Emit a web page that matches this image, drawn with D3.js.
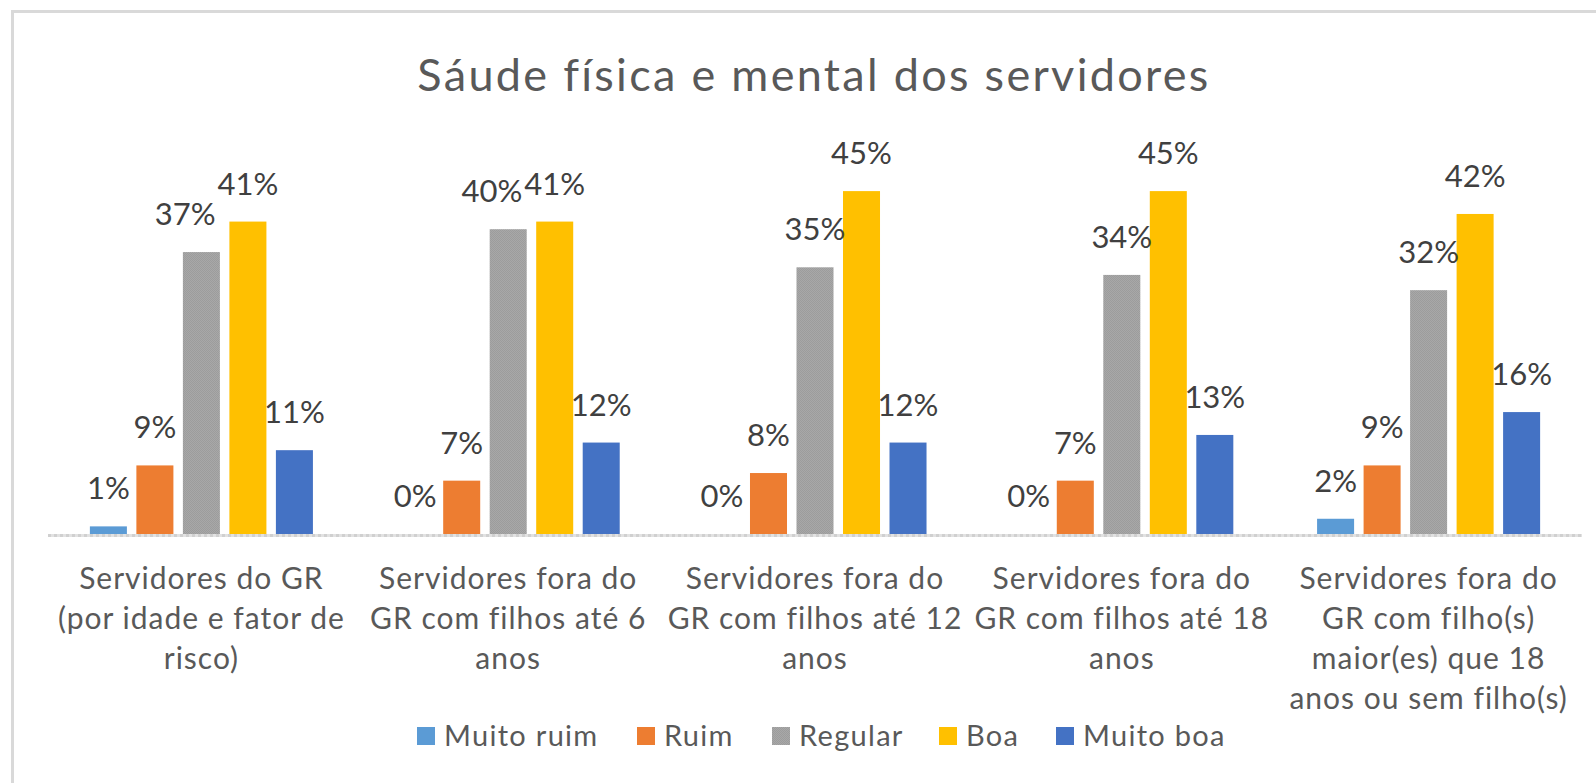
<!DOCTYPE html>
<html>
<head>
<meta charset="utf-8">
<script src="https://cdn.jsdelivr.net/npm/d3@7"></script>
<style>
  html, body { margin: 0; padding: 0; background: #ffffff; }
  svg { display: block; }
  text { font-family: Lato, "Open Sans", "Liberation Sans", sans-serif; }
</style>
</head>
<body>
<svg id="chart" width="1596" height="783"></svg>
<script>
// Chart data (percentages per health rating, per group of servants)
const title = "Sáude física e mental dos servidores";
const categories = [
  "Servidores do GR\n(por idade e fator de\nrisco)",
  "Servidores fora do\nGR com filhos até 6\nanos",
  "Servidores fora do\nGR com filhos até 12\nanos",
  "Servidores fora do\nGR com filhos até 18\nanos",
  "Servidores fora do\nGR com filho(s)\nmaior(es) que 18\nanos ou sem filho(s)"
];
const seriesNames = ["Muito ruim", "Ruim", "Regular", "Boa", "Muito boa"];
const muitoRuim = [1, 0, 0, 0, 2];
const ruim      = [9, 7, 8, 7, 9];
const regular   = [37, 40, 35, 34, 32];
const boa       = [41, 41, 45, 45, 42];
const muitoBoa  = [11, 12, 12, 13, 16];
const seriesColors = ["#5b9bd5", "#ed7d31", "url(#regularFill)", "#ffc000", "#4472c4"];

const seriesValues = [muitoRuim, ruim, regular, boa, muitoBoa];

const svg = d3.select("#chart");

// Dithered grey fill used by the "Regular" series
const defs = svg.append("defs");
const pat = defs.append("pattern")
  .attr("id", "regularFill")
  .attr("patternUnits", "userSpaceOnUse")
  .attr("width", 2).attr("height", 2);
pat.append("rect").attr("width", 2).attr("height", 2).attr("fill", "#a8a8a8");
pat.append("rect").attr("x", 0).attr("y", 0).attr("width", 1).attr("height", 1).attr("fill", "#9c9c9c");
pat.append("rect").attr("x", 1).attr("y", 1).attr("width", 1).attr("height", 1).attr("fill", "#9c9c9c");

// Chart frame (top and left edges)
svg.append("path")
  .attr("d", "M12.5,783 V11.5 H1596")
  .attr("fill", "none")
  .attr("stroke", "#d9d9d9")
  .attr("stroke-width", 3);

// Title
svg.append("text")
  .attr("x", 814)
  .attr("y", 91)
  .attr("text-anchor", "middle")
  .attr("font-size", 45)
  .attr("letter-spacing", 2.3)
  .attr("fill", "#595959")
  .text(title);

// Scales
const plotLeft = 48, plotRight = 1582, baseY = 534, topY = 153;
const x0 = d3.scaleBand().domain(d3.range(categories.length)).range([plotLeft, plotRight]).padding(0);
const groupW = x0.bandwidth() * 0.727;
const x1 = d3.scaleBand().domain(seriesNames).range([-groupW / 2, groupW / 2])
  .paddingInner(0.204).paddingOuter(0);
const y = d3.scaleLinear().domain([0, 50]).range([baseY, topY]);

// Bars
const rows = [];
categories.forEach((c, ci) => {
  seriesNames.forEach((s, si) => {
    rows.push({ ci, s, si, v: seriesValues[si][ci] });
  });
});

const g = svg.append("g");
g.selectAll("rect.bar")
  .data(rows)
  .join("rect")
  .attr("class", "bar")
  .attr("x", d => x0(d.ci) + x0.bandwidth() / 2 + x1(d.s))
  .attr("width", x1.bandwidth())
  .attr("y", d => y(d.v))
  .attr("height", d => baseY - y(d.v))
  .attr("fill", d => seriesColors[d.si]);

// Category axis line
svg.append("line")
  .attr("x1", plotLeft).attr("x2", plotRight)
  .attr("y1", baseY + 1.5).attr("y2", baseY + 1.5)
  .attr("stroke", "#e2e2e2").attr("stroke-width", 3);
svg.append("line")
  .attr("x1", plotLeft).attr("x2", plotRight)
  .attr("y1", baseY + 1.5).attr("y2", baseY + 1.5)
  .attr("stroke", "#d0d0d0").attr("stroke-width", 3)
  .attr("stroke-dasharray", "3,3");

// Data labels
const labels = g.selectAll("text.lbl")
  .data(rows)
  .join("text")
  .attr("class", "lbl")
  .attr("x", d => x0(d.ci) + x0.bandwidth() / 2 + x1(d.s) + x1.bandwidth() / 2)
  .attr("y", d => y(d.v) - 27)
  .attr("text-anchor", "middle")
  .attr("font-size", 31)
  .attr("fill", "#404040")
  .text(d => d.v + "%");

// Nudge a label left when it would collide with its right-hand neighbour
const lblNodes = labels.nodes();
for (let i = lblNodes.length - 2; i >= 0; i--) {
  const a = lblNodes[i], b = lblNodes[i + 1];
  if (rows[i].ci !== rows[i + 1].ci) continue;
  const ba = a.getBBox(), bb = b.getBBox();
  const vOverlap = ba.y < bb.y + bb.height && bb.y < ba.y + ba.height;
  const over = ba.x + ba.width - bb.x;
  if (vOverlap && over > 0) {
    a.setAttribute("x", +a.getAttribute("x") - over - 2);
  }
}

// Category labels (wrapped)
const catG = svg.append("g");
categories.forEach((c, ci) => {
  const t = catG.append("text")
    .attr("text-anchor", "middle")
    .attr("font-size", 30)
    .attr("letter-spacing", 1)
    .attr("fill", "#595959");
  c.split("\n").forEach((line, li) => {
    t.append("tspan")
      .attr("x", x0(ci) + x0.bandwidth() / 2)
      .attr("y", 589 + li * 40)
      .text(line);
  });
});

// Legend
const legendItems = [
  { name: "Muito ruim", sx: 417 },
  { name: "Ruim", sx: 637 },
  { name: "Regular", sx: 772 },
  { name: "Boa", sx: 939 },
  { name: "Muito boa", sx: 1056 }
];
const lg = svg.append("g");
legendItems.forEach((it) => {
  lg.append("rect")
    .attr("x", it.sx).attr("y", 727)
    .attr("width", 18).attr("height", 18)
    .attr("fill", seriesColors[seriesNames.indexOf(it.name)]);
  lg.append("text")
    .attr("x", it.sx + 27).attr("y", 746)
    .attr("font-size", 29)
    .attr("letter-spacing", 1.3)
    .attr("fill", "#595959")
    .text(it.name);
});
</script>
</body>
</html>
